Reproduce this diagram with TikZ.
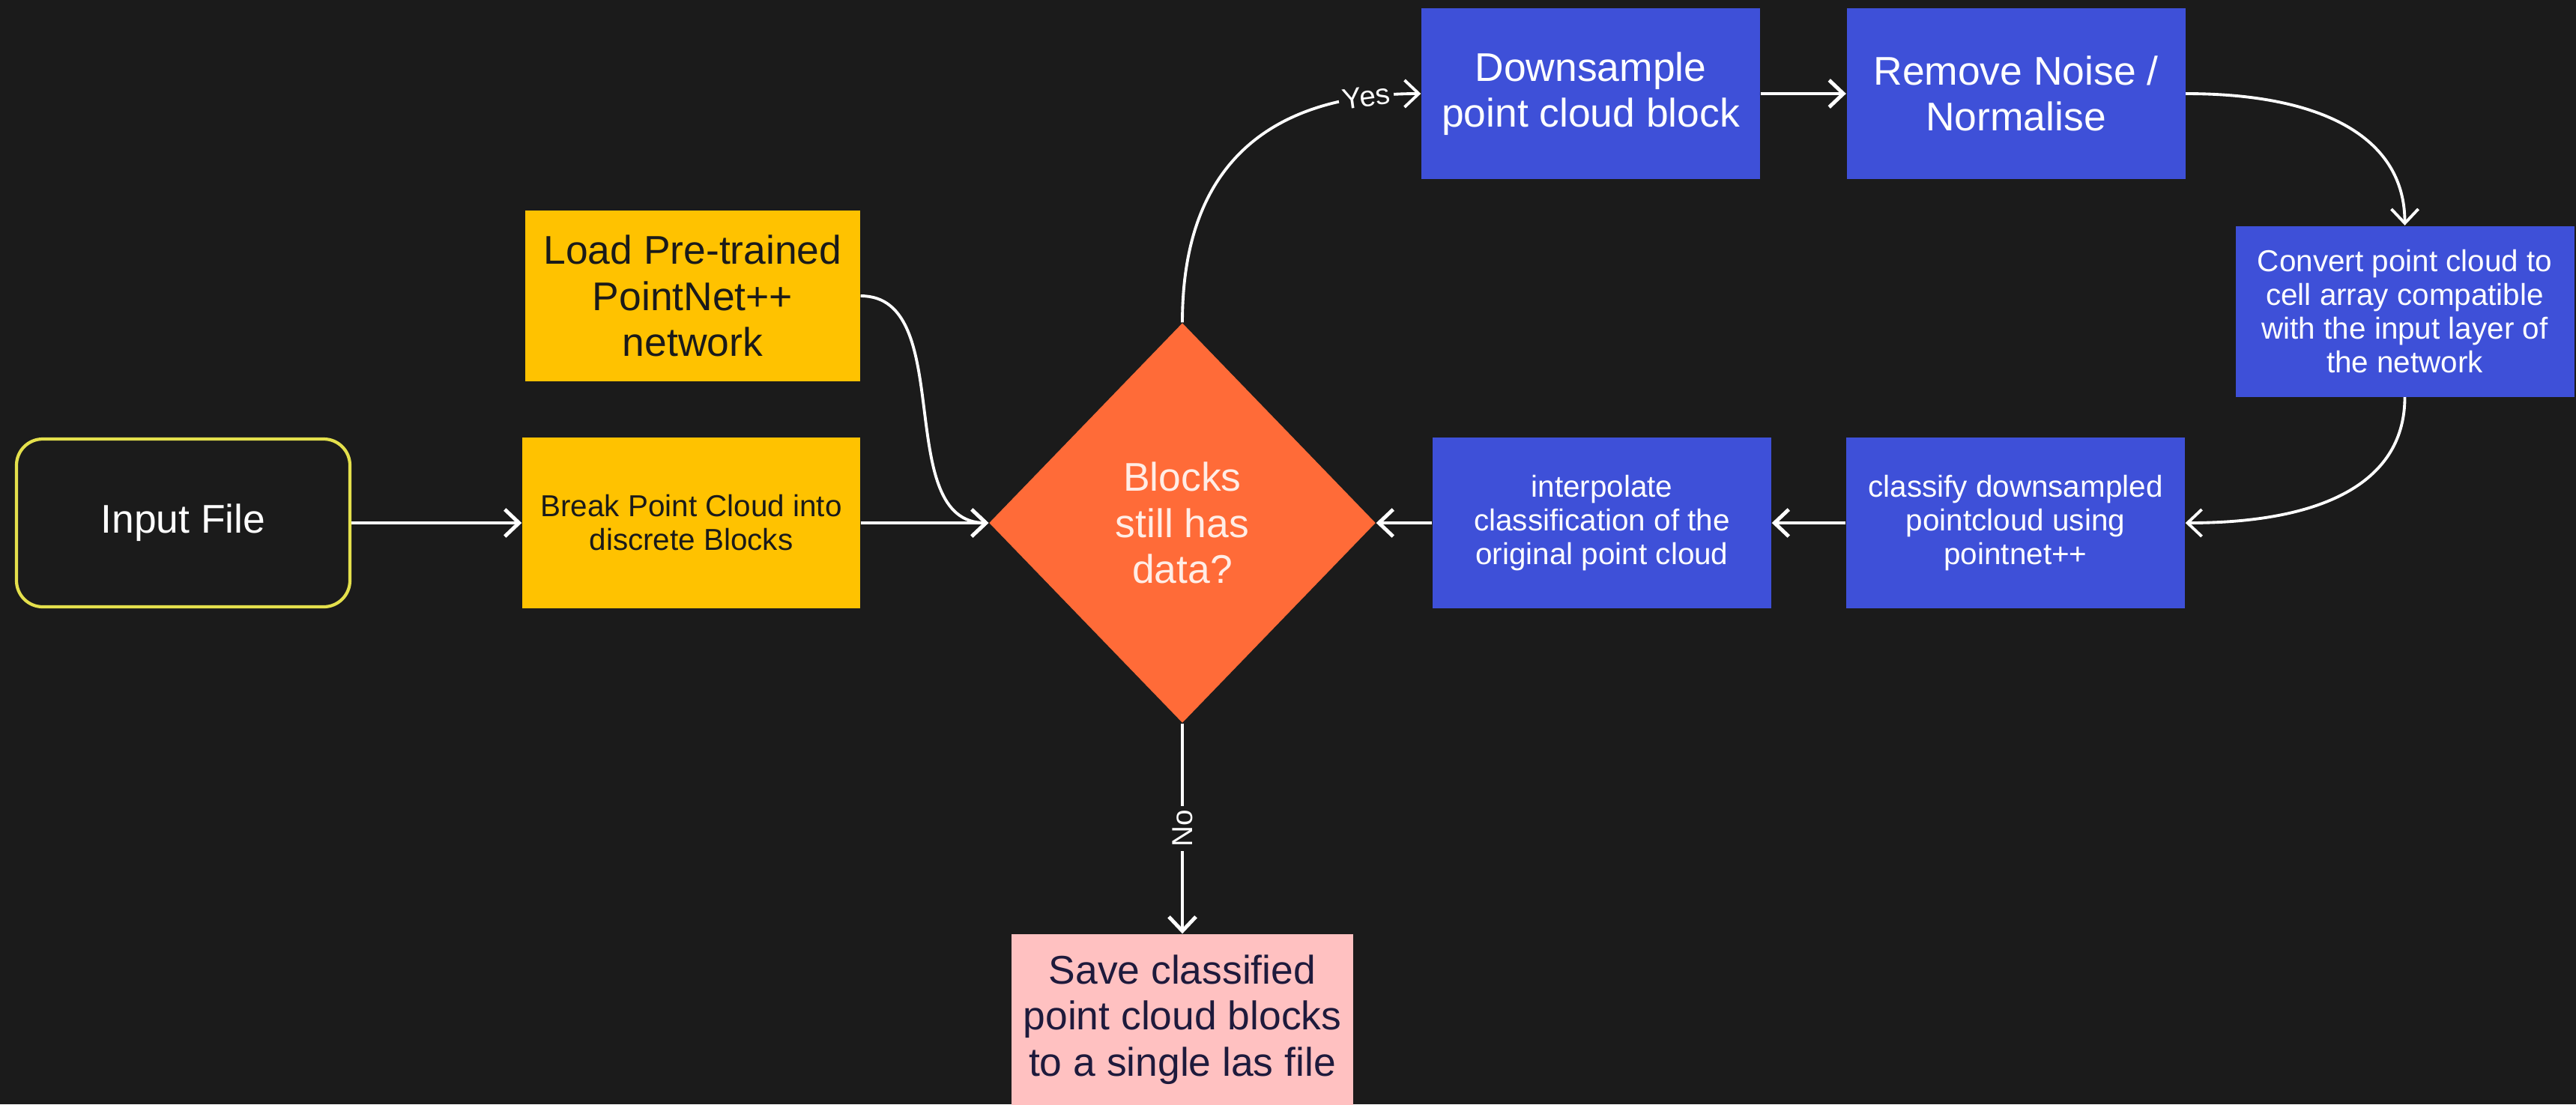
\documentclass[tikz,border=0pt]{standalone}
\usepackage{fontspec}
\setmainfont{Liberation Sans}
\usetikzlibrary{arrows.meta,shapes.geometric}
\definecolor{bg}{HTML}{1B1B1B}
\definecolor{boxblue}{HTML}{3E50D8}
\definecolor{boxyellow}{HTML}{FFC200}
\definecolor{boxorange}{HTML}{FF6B38}
\definecolor{boxpink}{HTML}{FFC1C1}
\definecolor{inputline}{HTML}{E4E04C}
\definecolor{darktext}{HTML}{1A1A1A}
\definecolor{navytext}{HTML}{1E1A3C}
\definecolor{diatext}{HTML}{FFEDE6}
\begin{document}
\begin{tikzpicture}[
  box/.style={rectangle, minimum width=4.52cm, minimum height=2.28cm, inner sep=2pt, align=center},
  bigtext/.style={font=\fontsize{15.2}{17.5}\selectfont},
  smalltext/.style={font=\fontsize{11.5}{12.8}\selectfont},
  bluebox/.style={box, fill=boxblue, text=white},
  yellowbox/.style={box, fill=boxyellow, text=darktext},
  conn/.style={draw=white, line width=1.4pt, -{Straight Barb[length=1.9mm,width=3.6mm]}},
  curveconn/.style={conn, line width=1.1pt},
  lbl/.style={fill=bg, text=white, font=\fontsize{11}{13}\selectfont, inner sep=1.5pt}
]
\fill[bg] (0,0) rectangle (34.38,-14.74);
\useasboundingbox (0,0) rectangle (34.38,-14.74);

\node[box, bigtext, draw=inputline, line width=1.2pt, rounded corners=0.35cm, fill=bg, text=white, minimum width=4.45cm, minimum height=2.24cm] (input) at (2.445,-6.98) {Input File};
\node[yellowbox, bigtext, minimum width=4.47cm] (load) at (9.245,-3.95) {Load Pre-trained\\PointNet++\\network};
\node[yellowbox, smalltext, minimum width=4.51cm] (brk) at (9.225,-6.98) {Break Point Cloud into\\discrete Blocks};
\node[diamond, fill=boxorange, text=diatext, bigtext, minimum width=5.16cm, minimum height=5.34cm, inner sep=0pt, align=center] (dia) at (15.78,-6.98) {Blocks\\still has\\data?};
\node[bluebox, bigtext] (down) at (21.23,-1.25) {Downsample\\point cloud block};
\node[bluebox, bigtext] (rem) at (26.905,-1.25) {Remove Noise /\\Normalise};
\node[bluebox, smalltext] (conv) at (32.095,-4.155) {Convert point cloud to\\cell array compatible\\with the input layer of\\the network};
\node[bluebox, smalltext] (cls) at (26.90,-6.98) {classify downsampled\\pointcloud using\\pointnet++};
\node[bluebox, smalltext] (interp) at (21.38,-6.98) {interpolate\\classification of the\\original point cloud};
\node[box, bigtext, fill=boxpink, text=navytext, minimum width=4.56cm] (save) at (15.78,-13.61) {Save classified\\point cloud blocks\\to a single las file};

\draw[conn] (input.east) -- (brk.west);
\draw[conn] (brk.east) -- (dia.west);
\draw[curveconn] (load.east) .. controls ([xshift=1.3cm]load.east) and ([xshift=-1.3cm]dia.west) .. (dia.west);
\draw[curveconn] (dia.north) .. controls ([yshift=2.3cm]dia.north) and ([xshift=-1.8cm]down.west) .. node[lbl, pos=0.86, sloped] {Yes} (down.west);
\draw[conn] (down.east) -- (rem.west);
\draw[curveconn] (rem.east) .. controls ([xshift=1.9cm]rem.east) and ([yshift=1.13cm]conv.north) .. (conv.north);
\draw[curveconn] (conv.south) .. controls ([yshift=-1.1cm]conv.south) and ([xshift=1.9cm]cls.east) .. (cls.east);
\draw[conn] (cls.west) -- (interp.east);
\draw[conn] (interp.west) -- (dia.east);
\draw[conn] (dia.south) -- node[lbl, pos=0.5, rotate=90] {No} (save.north);
\end{tikzpicture}
\end{document}
